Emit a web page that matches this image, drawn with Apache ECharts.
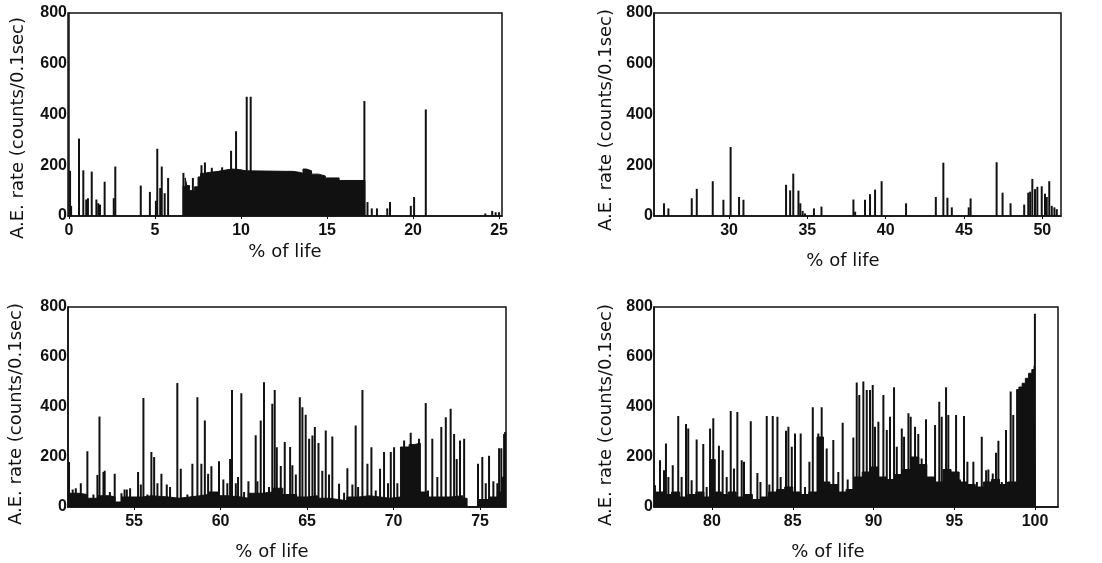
<!DOCTYPE html>
<html>
<head>
<meta charset="utf-8">
<script src="https://cdn.jsdelivr.net/npm/echarts@6/dist/echarts.min.js"></script>
<style>
html,body{margin:0;padding:0;background:#fff;}
#c{width:1102px;height:563px;}
</style>
</head>
<body>
<div id="c"></div>
<script>
// ---- tick labels ----
const yTicks = [0, 200, 400, 600, 800];
const p1Ticks = [0, 5, 10, 15, 20, 25];
const p2Ticks = [30, 35, 40, 45, 50];
const p3Ticks = [55, 60, 65, 70, 75];
const p4Ticks = [80, 85, 90, 95, 100];

// ---- axis ranges (% of life) ----
const p1Range = [-0.06, 25.17];
const p2Range = [25.21, 51.19];
const p3Range = [51.18, 76.5];
const p4Range = [76.41, 101.42];

// ---- texts ----
const yTitle = 'A.E. rate (counts/0.1sec)';
const xTitle = '% of life';

// ---- panel 1 (0-25 %) : [% of life, counts/0.1sec] ----
const p1Spikes = [[0.06,178],[0.12,40],[0.58,305],[0.83,180],[1.0,65],[1.1,70],[1.32,175],[1.59,65],[1.7,50],[1.8,45],
 [2.07,135],[2.6,70],[2.69,195],[4.17,120],[4.7,95],[5.05,60],[5.13,265],[5.3,110],[5.39,195],[5.56,90],
 [5.76,150],[6.65,170],[7.2,150],[7.7,200],[7.9,211],[8.3,190],[8.9,192],[9.42,257],[9.71,334],[10.33,470],[10.56,470],
 [17.17,453],[17.35,55],[17.6,30],[17.9,30],[18.5,30],[18.66,55],[19.87,40],[20.06,75],[20.74,420],
 [24.2,10],[24.6,20],[24.8,15],[25.0,15]];
const p1Floor = [[6.6,116],[6.75,150],[6.85,120],[7.0,100],[7.3,115],[7.5,154],[7.65,168],[7.8,172],[8.2,175],[8.6,180],
 [9.0,185],[9.5,183],[9.9,178],[10.3,176],[12.6,176],[13.0,172],[13.4,168],[13.6,185],[13.8,178],[14.1,165],
 [14.5,158],[14.9,150],[15.7,140],[17.2,0]];

// ---- panel 2 (25-51 %) ----
const p2Spikes = [[25.85,50],[26.13,30],[27.62,70],[27.94,107],[28.96,137],[29.64,64],[30.1,272],[30.64,75],[30.92,64],
 [33.64,123],[33.9,101],[34.1,167],[34.43,100],[34.55,50],[34.7,20],[34.85,10],[35.42,30],[35.9,37],[37.94,65],
 [38.05,17],[38.68,64],[39.0,86],[39.32,104],[39.74,137],[41.3,50],[43.2,75],[43.68,210],[43.94,72],[44.22,34],
 [45.3,34],[45.42,69],[47.08,212],[47.46,92],[47.97,50],[48.84,45],[49.1,92],[49.22,96],[49.36,146],[49.53,106],
 [49.68,115],[49.96,117],[50.17,88],[50.28,75],[50.44,137],[50.6,40],[50.77,34],[50.92,27]];

// ---- panel 3 (51-76 %) ----
const p3Spikes = [[51.24,180],[51.45,70],[51.63,75],[51.92,95],[52.3,223],[52.65,50],[52.88,128],[53.0,362],[53.23,140],
 [53.3,145],[53.6,60],[53.88,133],[54.27,55],[54.45,70],[54.58,70],[54.77,75],[55.23,140],[55.39,90],[55.54,436],
 [55.77,50],[56.0,220],[56.16,200],[56.35,95],[56.58,133],[56.89,90],[57.08,80],[57.5,496],[57.7,153],[58.08,50],
 [58.37,173],[58.66,439],[58.89,173],[59.09,346],[59.28,133],[59.47,163],[59.91,183],[60.16,110],[60.39,95],
 [60.55,192],[60.66,468],[60.88,95],[61.01,120],[61.2,455],[61.36,60],[61.61,103],[62.03,287],[62.13,103],
 [62.32,346],[62.51,499],[62.8,80],[62.99,413],[63.13,468],[63.25,239],[63.48,164],[63.71,260],[64.02,240],
 [64.15,167],[64.35,130],[64.58,439],[64.73,399],[64.92,369],[65.12,273],[65.31,286],[65.45,320],[65.66,256],
 [65.88,145],[66.08,306],[66.27,130],[66.46,282],[66.85,93],[67.14,57],[67.33,155],[67.62,90],[67.81,326],
 [67.95,80],[68.2,468],[68.49,173],[68.72,239],[68.97,66],[69.22,153],[69.45,220],[69.68,95],[69.84,220],
 [70.03,239],[70.22,95],[70.61,266],[70.99,297],[71.47,273],[71.86,416],[71.99,66],[72.24,273],[72.53,120],
 [72.76,320],[73.02,359],[73.3,393],[73.5,292],[73.65,192],[73.84,266],[74.08,273],[74.88,173],[75.13,200],
 [75.33,95],[75.52,205],[75.77,103],[76.0,95],[76.1,235],[76.23,235],[76.39,292],[76.45,300]];
const p3Floor = [[51.2,55],[51.8,50],[52.3,35],[52.9,45],[53.6,40],[53.9,20],[54.3,40],[55.0,40],[55.5,45],[56.0,40],
 [57.0,35],[57.6,40],[58.2,45],[58.8,50],[59.3,60],[59.9,45],[60.4,40],[61.2,35],[61.6,55],[62.4,60],[63.0,75],
 [63.6,50],[64.4,40],[65.0,45],[65.6,35],[66.3,30],[66.8,25],[67.3,40],[68.0,45],[68.6,40],[69.2,35],[69.8,40],
 [70.4,240],[70.9,250],[71.2,255],[71.55,60],[72.0,40],[72.6,40],[73.3,45],[74.0,35],[74.25,0],[74.85,30],
 [75.5,40],[76.0,60],[76.3,120],[76.5,120]];

// ---- panel 4 (76-100 %) ----
const p4Spikes = [[76.47,87],[76.78,187],[77.03,147],[77.15,254],[77.3,120],[77.57,167],[77.91,364],[78.12,120],
 [78.39,332],[78.53,314],[78.74,107],[79.05,270],[79.46,252],[79.67,80],[79.88,314],[80.08,355],[80.43,245],
 [80.66,227],[80.91,120],[81.16,384],[81.36,154],[81.57,380],[81.84,187],[81.98,181],[82.4,343],[82.81,136],
 [83.0,100],[83.39,364],[83.55,90],[83.76,364],[84.05,361],[84.25,120],[84.58,305],[84.73,321],[84.94,241],
 [85.14,294],[85.49,294],[85.76,80],[86.03,181],[86.24,399],[86.58,294],[86.79,399],[87.1,234],[87.51,268],
 [87.82,140],[88.09,337],[88.4,110],[88.75,278],[88.96,498],[89.12,448],[89.37,502],[89.58,468],[89.78,468],
 [89.95,488],[90.09,321],[90.3,341],[90.61,448],[90.82,308],[91.02,361],[91.27,479],[91.44,241],[91.75,314],
 [91.89,281],[92.16,375],[92.3,361],[92.57,321],[92.77,292],[92.98,194],[93.25,351],[93.5,120],[93.81,328],
 [94.07,421],[94.22,361],[94.49,479],[94.63,368],[94.9,136],[95.11,368],[95.35,110],[95.6,364],[95.81,181],
 [96.18,181],[96.4,100],[96.7,281],[96.97,147],[97.11,150],[97.38,134],[97.58,217],[97.73,265],[97.94,100],
 [98.2,308],[98.49,462],[98.65,368],[99.99,773]];
const p4Floor = [[76.45,60],[77.0,50],[77.5,60],[78.0,40],[78.5,50],[79.0,60],[79.5,40],[79.85,190],[80.2,60],
 [80.6,50],[81.0,60],[81.5,40],[82.0,50],[82.5,30],[83.0,40],[83.5,60],[84.0,70],[84.5,80],[85.0,60],[85.5,50],
 [86.0,60],[86.5,280],[86.9,100],[87.3,90],[87.8,60],[88.3,70],[88.8,120],[89.3,140],[89.8,160],[90.3,120],
 [90.8,110],[91.3,130],[91.8,150],[92.3,200],[92.8,170],[93.3,120],[93.8,100],[94.3,150],[94.8,140],[95.3,100],
 [95.8,90],[96.3,80],[96.8,100],[97.3,110],[97.8,90],[98.3,100],[98.86,470],[99.0,480],[99.2,495],[99.4,515],
 [99.6,535],[99.8,550],[99.95,565],[100.02,0]];

// ---- layout ----
const grids = [
  {left: 68, top: 13, width: 434, height: 203},
  {left: 654, top: 13, width: 407, height: 203},
  {left: 68, top: 307, width: 438, height: 200},
  {left: 654, top: 307, width: 404, height: 200}
];
const ranges = [p1Range, p2Range, p3Range, p4Range];
const ticks = [p1Ticks, p2Ticks, p3Ticks, p4Ticks];
const spikes = [p1Spikes, p2Spikes, p3Spikes, p4Spikes];
const floors = [p1Floor, null, p3Floor, p4Floor];
const ink = '#111';
const labelFont = "'Liberation Sans', Arial, sans-serif";
const titleFont = "'DejaVu Sans', sans-serif";

const option = {
  animation: false,
  backgroundColor: '#fff',
  grid: grids.map(g => Object.assign({show: true, borderColor: ink, borderWidth: 1.5, backgroundColor: 'transparent'}, g)),
  xAxis: grids.map((g, i) => ({
    gridIndex: i, type: 'value', min: ranges[i][0], max: ranges[i][1],
    axisLine: {show: true, onZero: false, lineStyle: {color: ink, width: 1.5}},
    axisTick: {show: true, customValues: ticks[i], length: 3, lineStyle: {color: ink, width: 1}},
    axisLabel: {customValues: ticks[i], color: ink, fontFamily: labelFont, fontWeight: 'bold', fontSize: 16, margin: 7},
    splitLine: {show: false}
  })),
  yAxis: grids.map((g, i) => ({
    gridIndex: i, type: 'value', min: 0, max: 800, interval: 200,
    axisLine: {show: true, lineStyle: {color: ink, width: 1.5}},
    axisTick: {show: false},
    axisLabel: {color: ink, fontFamily: labelFont, fontWeight: 'bold', fontSize: 16, margin: 1,
      customValues: yTicks},
    splitLine: {show: false}
  })),
  series: [],
  graphic: []
};

grids.forEach((g, i) => {
  if (floors[i]) {
    option.series.push({
      type: 'line', xAxisIndex: i, yAxisIndex: i, data: floors[i], step: 'end',
      symbol: 'none', silent: true,
      lineStyle: {color: ink, width: 1}, areaStyle: {color: ink, opacity: 1}
    });
  }
  option.series.push({
    type: 'bar', xAxisIndex: i, yAxisIndex: i, data: spikes[i], barWidth: 2,
    itemStyle: {color: ink}, silent: true
  });
});

// axis titles
const yTitlePos = [[18, 128], [606, 120], [16, 414], [606, 415]];
const xTitlePos = [[285, 252], [843, 261], [272, 552], [828, 552]];
yTitlePos.forEach(p => option.graphic.push({
  type: 'text', x: p[0], y: p[1], rotation: Math.PI / 2,
  style: {text: yTitle, font: '18px ' + titleFont, fill: ink, align: 'center', verticalAlign: 'middle'}
}));
xTitlePos.forEach(p => option.graphic.push({
  type: 'text', x: p[0], y: p[1],
  style: {text: xTitle, font: '18px ' + titleFont, fill: ink, align: 'center', verticalAlign: 'middle'}
}));

const chart = echarts.init(document.getElementById('c'), null, {renderer: 'canvas'});
chart.setOption(option);
</script>
</body>
</html>
